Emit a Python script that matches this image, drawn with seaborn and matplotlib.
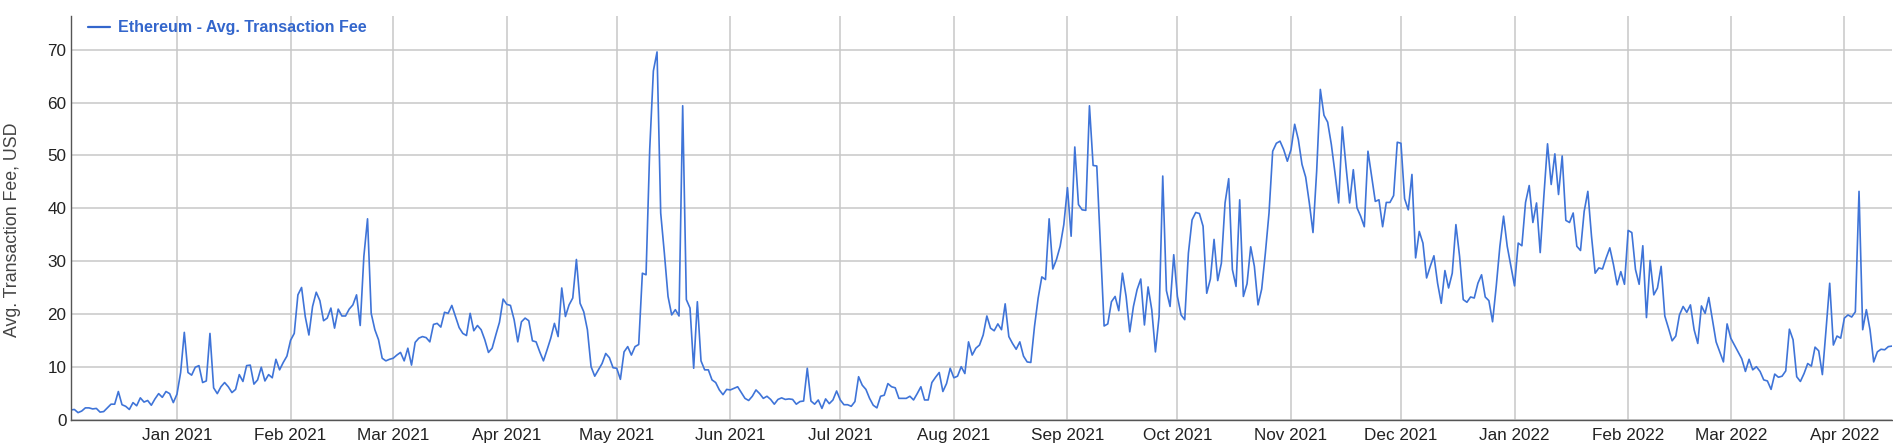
import numpy as np
import pandas as pd
import matplotlib
matplotlib.use("Agg")
import matplotlib.pyplot as plt
import matplotlib.dates as mdates
import seaborn as sns

# ---- data: daily average Ethereum transaction fee (USD) ----
start_date = "2020-12-03"
dec20 = [1.8, 1.9, 1.3, 1.6, 2.2, 2.2, 2.0, 2.1, 1.4, 1.5, 2.2, 2.9, 2.9, 5.3, 2.8,
         2.5, 1.9, 3.2, 2.6, 4.1, 3.3, 3.6, 2.7, 3.9, 4.9, 4.2, 5.3, 4.9, 3.2]
jan21 = [4.8, 8.9, 16.5, 8.9, 8.4, 9.9, 10.2, 7.0, 7.3, 16.3, 6.0, 4.9, 6.2, 7.0, 6.2,
         5.1, 5.7, 8.5, 7.2, 10.2, 10.3, 6.7, 7.5, 9.9, 7.3, 8.5, 7.9, 11.4, 9.4, 10.8, 12.0]
feb21 = [15.0, 16.3, 23.6, 25.0, 19.5, 16.0, 21.4, 24.1, 22.5, 18.7, 19.2, 21.1, 17.3, 20.9,
         19.6, 19.6, 20.9, 21.7, 23.6, 17.8, 30.9, 38.0, 20.1, 17.0, 15.1, 11.6, 11.1, 11.4]
mar21 = [11.6, 12.2, 12.7, 11.1, 13.5, 10.3, 14.6, 15.4, 15.7, 15.5, 14.7, 18.0, 18.2, 17.5,
         20.3, 20.1, 21.6, 19.5, 17.4, 16.3, 15.9, 20.1, 16.8, 17.8, 17.0, 15.1, 12.7, 13.5,
         16.0, 18.4, 22.8]
apr21 = [21.8, 21.6, 18.9, 14.7, 18.5, 19.2, 18.7, 14.9, 14.7, 12.8, 11.1, 13.2, 15.4, 18.2,
         15.7, 24.9, 19.5, 21.7, 23.0, 30.3, 22.0, 20.4, 17.0, 10.0, 8.2, 9.4, 10.6, 12.5, 11.7, 9.8]
may21 = [9.7, 7.6, 12.8, 13.8, 12.2, 13.8, 14.2, 27.7, 27.4, 51.1, 66.0, 69.6, 39.1, 31.5,
         23.3, 19.8, 20.8, 19.6, 59.4, 22.7, 21.1, 9.7, 22.3, 11.1, 9.4, 9.4, 7.5, 7.0, 5.6, 4.7, 5.7]
jun21 = [5.6, 5.9, 6.2, 5.1, 4.0, 3.6, 4.4, 5.6, 4.9, 4.0, 4.4, 3.8, 2.9, 3.8, 4.1, 3.8, 3.9,
         3.8, 2.9, 3.4, 3.5, 9.7, 3.5, 2.9, 3.7, 2.1, 3.9, 3.0, 3.7, 5.4]
jul21 = [3.7, 2.8, 2.8, 2.5, 3.4, 8.1, 6.5, 5.7, 4.0, 2.7, 2.2, 4.4, 4.6, 6.8, 6.2, 6.0, 4.0,
         4.0, 4.0, 4.4, 3.7, 4.9, 6.2, 3.7, 3.7, 7.0, 8.0, 8.9, 5.3, 6.8, 9.7]
aug21 = [7.9, 8.2, 10.0, 8.7, 14.7, 12.2, 13.5, 14.1, 16.0, 19.6, 17.3, 16.8, 18.1, 17.0, 21.9,
         15.7, 14.4, 13.3, 14.7, 12.0, 10.9, 10.8, 17.6, 23.0, 27.0, 26.5, 38.0, 28.5, 30.3, 32.8, 36.9]
sep21 = [43.9, 34.7, 51.6, 40.7, 39.7, 39.6, 59.4, 48.1, 48.0, 32.8, 17.7, 18.1, 22.3, 23.3,
         20.6, 27.7, 23.3, 16.6, 21.4, 24.6, 26.6, 17.9, 25.1, 20.8, 12.8, 19.5, 46.1, 24.4, 21.4, 31.2]
oct21 = [23.3, 19.8, 18.9, 31.5, 37.8, 39.2, 39.0, 36.6, 23.9, 26.6, 34.1, 26.3, 29.6, 41.0,
         45.6, 28.4, 25.2, 41.6, 23.3, 25.7, 32.7, 29.0, 21.7, 24.7, 31.5, 39.1, 50.8, 52.3, 52.7,
         51.1, 48.9]
nov21 = [51.1, 55.9, 53.0, 48.3, 45.9, 41.0, 35.4, 47.0, 62.5, 57.6, 56.3, 52.1, 46.7, 41.0,
         55.4, 48.0, 41.0, 47.3, 40.1, 38.5, 36.5, 50.8, 46.1, 41.3, 41.6, 36.5, 41.1, 41.1, 42.4, 52.5]
dec21 = [52.3, 41.8, 39.7, 46.4, 30.6, 35.6, 33.4, 26.8, 29.0, 31.0, 25.8, 22.0, 28.2, 24.9,
         27.7, 36.9, 30.9, 22.7, 22.2, 23.2, 23.0, 25.8, 27.4, 23.2, 22.5, 18.5, 25.2, 32.8, 38.5,
         32.8, 29.0]
jan22 = [25.3, 33.4, 32.9, 41.1, 44.3, 37.3, 41.0, 31.6, 42.3, 52.2, 44.5, 50.3, 42.6, 49.9,
         37.7, 37.3, 39.1, 32.8, 32.0, 39.4, 43.2, 34.7, 27.7, 28.7, 28.5, 30.6, 32.5, 29.3, 25.5,
         28.0, 25.6]
feb22 = [35.8, 35.4, 28.4, 25.6, 32.9, 19.3, 30.1, 23.6, 24.9, 29.0, 19.6, 17.3, 14.9, 15.8,
         19.8, 21.4, 20.3, 21.7, 17.0, 14.4, 21.5, 20.1, 23.1, 18.9, 14.7, 12.8, 10.9, 18.1]
mar22 = [15.4, 14.1, 12.8, 11.5, 9.1, 11.4, 9.4, 10.0, 9.1, 7.5, 7.3, 5.7, 8.6, 8.0, 8.2, 9.2,
         17.1, 15.1, 8.1, 7.2, 8.7, 10.6, 10.1, 13.7, 13.0, 8.5, 17.0, 25.8, 14.1, 15.8, 15.4]
apr22 = [19.2, 19.8, 19.4, 20.4, 43.2, 17.0, 20.8, 17.0, 10.9, 12.8, 13.3, 13.2, 13.8, 13.9]

series_label = "Ethereum - Avg. Transaction Fee"
y_label = "Avg. Transaction Fee, USD"
y_ticks = [0, 10, 20, 30, 40, 50, 60, 70]

fees = (dec20 + jan21 + feb21 + mar21 + apr21 + may21 + jun21 + jul21 + aug21 + sep21
        + oct21 + nov21 + dec21 + jan22 + feb22 + mar22 + apr22)
dates = pd.date_range(start_date, periods=len(fees), freq="D")
df = pd.DataFrame({"date": dates, "fee": fees})

# ---- style ----
sns.set_style("white")
plt.rcParams["font.family"] = ["Liberation Sans", "DejaVu Sans"]

LINE = "#3f74d8"
TEXT_BLUE = "#3366cc"
GRID = "#c8c8c8"

W, H = 1893, 443
fig = plt.figure(figsize=(W / 100, H / 100), dpi=100)
left, right, top, bottom = 70.7, 1892, 16, 419.5
ax = fig.add_axes([left / W, (H - bottom) / H, (right - left) / W, (bottom - top) / H])

sns.lineplot(data=df, x="date", y="fee", ax=ax, color=LINE, linewidth=1.2,
             label=series_label)

ax.set_xlim(dates[0], dates[-1])
ax.set_ylim(0, 76.4)
ax.set_yticks(y_ticks)
ax.xaxis.set_major_locator(mdates.MonthLocator(bymonthday=1))
ax.xaxis.set_major_formatter(mdates.DateFormatter("%b %Y"))

ax.grid(True, color=GRID, linewidth=1.1)
ax.set_axisbelow(True)
for s in ["top", "right"]:
    ax.spines[s].set_visible(False)
for s in ["left", "bottom"]:
    ax.spines[s].set_color("#555555")
    ax.spines[s].set_linewidth(1.0)

ax.tick_params(axis="both", length=0, labelsize=12.3, colors="#222222")
ax.tick_params(axis="x", pad=6)
ax.tick_params(axis="y", pad=3)

ax.set_xlabel("")
ax.set_ylabel(y_label, fontsize=12.8, color="#444444")
ax.yaxis.set_label_coords(-0.0275, 0.47)

leg = ax.legend(loc="upper left", bbox_to_anchor=(0.006, 1.005), frameon=False,
                handlelength=1.4, handletextpad=0.5, borderaxespad=0.0,
                prop={"weight": "bold", "size": 11.5})
for t in leg.get_texts():
    t.set_color(TEXT_BLUE)
for h in leg.get_lines():
    h.set_color(TEXT_BLUE)
    h.set_linewidth(1.6)

fig.savefig("out.png", dpi=100)
